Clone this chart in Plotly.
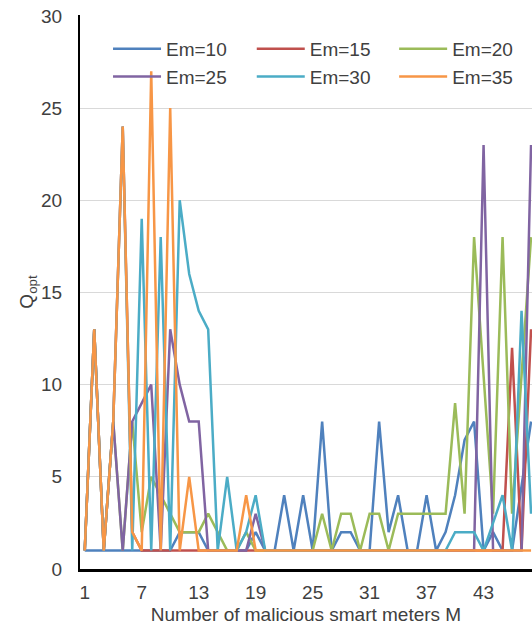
import plotly.graph_objects as go

M = list(range(1, 49))
em10 = [1,1,1,1,1,1,1,1,1,1,2,2,2,1,1,1,1,1,2,1,1,4,1,4,1,8,1,2,2,1,1,8,2,4,1,1,4,1,2,4,7,8,1,2,1,1,4.5,8]
em15 = [1,13,1,8,24,2,1,1,1,1,1,1,1,1,1,1,1,1,1,1,1,1,1,1,1,1,1,1,1,1,1,1,1,1,1,1,1,1,1,1,1,1,1,1,1,12,1,13]
em20 = [1,13,1,8,1,8,2,5,4,3,2,2,2,3,2,1,1,2,1,1,1,1,1,1,1,3,1,3,3,1,3,3,1,3,3,3,3,3,3,9,3,18,10.5,3,18,3,10.5,18]
em25 = [1,13,1,8,1,8,9,10,1,13,10,8,8,1,1,1,1,1,3,1,1,1,1,1,1,1,1,1,1,1,1,1,1,1,1,1,1,1,1,1,1,1,23,1,1,1,1,23]
em30 = [1,13,1,8,24,1,19,1,18,1,20,16,14,13,1,5,1,2,4,1,1,1,1,1,1,1,1,1,1,1,1,1,1,1,1,1,1,1,1,2,2,2,1,2.5,4,1,14,3]
em35 = [1,13,1,8,24,2,1,27,1,25,1,5,1,1,1,1,1,4,1,1,1,1,1,1,1,1,1,1,1,1,1,1,1,1,1,1,1,1,1,1,1,1,1,1,1,1,1,1]

names = ["Em=10", "Em=15", "Em=20", "Em=25", "Em=30", "Em=35"]
series = [em10, em15, em20, em25, em30, em35]
colors = ["#4F81BD", "#C0504D", "#9BBB59", "#8064A2", "#4BACC6", "#F79646"]
legend_of = ["legend", "legend2", "legend3", "legend", "legend2", "legend3"]

FONT = "Liberation Sans, Arial, sans-serif"
TXT = "#404040"

fig = go.Figure()
for n, s, c, lg in zip(names, series, colors, legend_of):
    fig.add_trace(go.Scatter(x=M, y=s, mode="lines", name=n, legend=lg,
                             line=dict(color=c, width=2.5)))

def leg(x):
    return dict(orientation="v", x=x, y=0.973, xanchor="left", yanchor="top",
                bgcolor="rgba(0,0,0,0)", font=dict(size=19, color=TXT),
                tracegroupgap=0, traceorder="normal", itemwidth=48)

fig.update_layout(
    width=532, height=630,
    margin=dict(l=80, r=0, t=15, b=61, autoexpand=False),
    paper_bgcolor="white", plot_bgcolor="white",
    font=dict(family=FONT, size=19, color=TXT),
    showlegend=True,
    legend=leg(0.062), legend2=leg(0.380), legend3=leg(0.695),
)
fig.update_xaxes(range=[0.5, 48.1], tickmode="linear", tick0=1, dtick=6,
                 showgrid=False, zeroline=False, showline=True, linecolor="black",
                 linewidth=2.5, ticks="outside", ticklen=4, tickcolor="rgba(0,0,0,0)",
                 title=dict(text="Number of malicious smart meters M", standoff=7,
                            font=dict(size=19, color=TXT)))
fig.update_yaxes(range=[0, 30.05], tickmode="linear", tick0=0, dtick=5,
                 showgrid=True, gridcolor="#D9D9D9", gridwidth=1.2, zeroline=False,
                 showline=True, linecolor="black", linewidth=2,
                 ticks="outside", ticklen=12, tickcolor="rgba(0,0,0,0)",
                 title=dict(text="Q<sub>opt</sub>", standoff=2,
                            font=dict(size=19, color=TXT)))

fig.write_html("out.html")
